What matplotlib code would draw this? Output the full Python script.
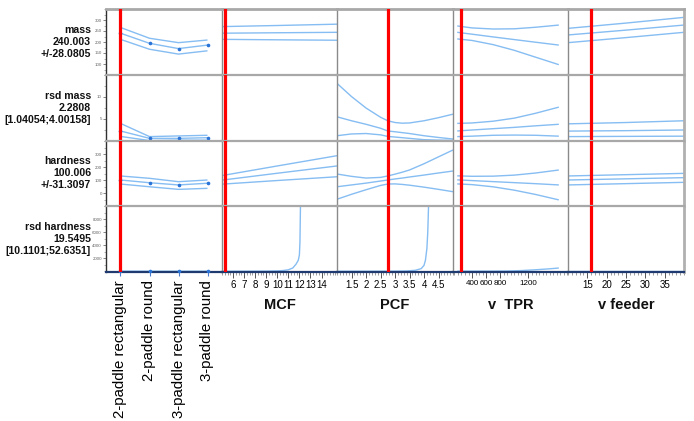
import matplotlib
matplotlib.use('Agg')
import matplotlib.pyplot as plt
from matplotlib.ticker import AutoMinorLocator, MultipleLocator, FixedLocator

plt.rcParams['font.family'] = ['Liberation Sans', 'DejaVu Sans']

# ---------------- data ----------------
categories = ['2-paddle rectangular', '2-paddle round', '3-paddle rectangular', '3-paddle round']
factor_names = ['', 'MCF', 'PCF', 'v  TPR', 'v feeder']
response_labels = ['mass\n240.003\n+/-28.0805',
                   'rsd mass\n2.2808\n[1.04054;4.00158]',
                   'hardness\n100.006\n+/-31.3097',
                   'rsd hardness\n19.5495\n[10.1101;52.6351]']
current_settings = [0, 5.27, 2.75, 250, 16]

# categorical factor (mixer type)
cat_x = [0, 1, 2, 3]
mass_cat_upper = [266, 217, 197, 209]
mass_cat_pred = [240.0, 194, 170, 186]
mass_cat_lower = [212, 167, 145, 160]
rsdm_cat_upper = [4.0, 1.0, 1.15, 1.3]
rsdm_cat_pred = [2.28, 0.6, 0.6, 0.75]
rsdm_cat_lower = [1.04, 0.1, 0.2, 0.2]
hard_cat_upper = [131, 113, 87, 100]
hard_cat_pred = [100, 79, 62, 75]
hard_cat_lower = [69, 48, 28, 36]
rsdh_cat_pred = [19.5, 15, 15, 15]

# MCF
mcf_x = [5, 10, 15.4]
mass_mcf_upper = [270, 275, 281]
mass_mcf_pred = [240, 242, 244]
mass_mcf_lower = [212, 210, 208]
hard_mcf_upper = [134, 208, 287]
hard_mcf_pred = [99, 152, 208]
hard_mcf_lower = [68, 96, 125]
rsdh_mcf_x = [5, 7, 9, 10, 10.5, 11, 11.4, 11.7, 11.9, 12.0, 12.05, 12.1]
rsdh_mcf_y = [5, 10, 25, 60, 110, 230, 500, 1100, 1700, 2500, 4500, 10500]

# PCF
pcf_x = [1, 1.5, 2, 2.5, 2.75, 3, 3.25, 3.5, 4, 4.5, 5]
rsdm_pcf_upper = [13.1, 10.1, 7.5, 5.4, 4.6, 4.2, 4.05, 4.1, 4.6, 5.3, 6.1]
rsdm_pcf_pred = [5.5, 4.6, 3.8, 2.9, 2.28, 2.1, 1.9, 1.7, 1.2, 0.8, 0.45]
rsdm_pcf_lower = [1.2, 1.6, 1.7, 1.4, 1.04, 0.9, 0.75, 0.6, 0.3, 0.2, 0.15]
hard_pcf_upper = [146, 128, 115, 120, 131, 145, 160, 177, 225, 278, 331]
hard_pcf_pred = [48, 62, 76, 92, 100, 108, 115, 123, 138, 154, 169]
hard_pcf_lower = [-48, -10, 25, 58, 69, 70, 66, 60, 45, 28, 10]
rsdh_pcf_x = [1, 2, 3, 3.4, 3.7, 3.9, 4.0, 4.05, 4.1, 4.13, 4.16]
rsdh_pcf_y = [5, 8, 20, 50, 150, 400, 900, 1700, 3500, 6000, 10500]

# v TPR
tpr_x = [190, 400, 700, 1000, 1300, 1630]
mass_tpr_upper = [273, 264, 259, 260, 267, 277]
mass_tpr_pred = [244, 235.5, 223, 211, 199, 186]
mass_tpr_lower = [214, 207, 188, 162, 131, 97]
rsdm_tpr_upper = [4.0, 4.1, 4.5, 5.2, 6.3, 7.7]
rsdm_tpr_pred = [2.28, 2.5, 2.8, 3.1, 3.45, 3.8]
rsdm_tpr_lower = [1.0, 1.1, 1.3, 1.35, 1.3, 1.1]
hard_tpr_upper = [132, 128.5, 129.5, 137.6, 153.7, 177]
hard_tpr_pred = [101, 95.5, 87.5, 79.6, 71.7, 62]
hard_tpr_lower = [70, 64.5, 47.5, 21.6, -11.3, -53]
rsdh_tpr_x = [190, 700, 900, 1100, 1300, 1500, 1630]
rsdh_tpr_y = [20, 25, 40, 110, 230, 380, 500]

# v feeder
feeder_x = [10, 25, 40]
mass_feed_upper = [262, 286, 312]
mass_feed_pred = [232, 254, 277]
mass_feed_lower = [197, 220, 244]
rsdm_feed_upper = [3.9, 4.2, 4.6]
rsdm_feed_pred = [2.25, 2.35, 2.5]
rsdm_feed_lower = [1.0, 1.05, 1.1]
hard_feed_upper = [131, 141, 151]
hard_feed_pred = [100, 109, 118]
hard_feed_lower = [62, 72, 82]
rsdh_feed_y = [20, 20, 20]

# axis ranges
row_ylims = [(50, 350), (0, 15), (-100, 400), (-110, 10000)]
col_xlims = [(-0.5, 3.5), (5, 15.4), (1, 5), (130, 1760), (10, 40)]
row_yticks = [[100, 150, 200, 250, 300], [5, 10], [0, 100, 200, 300], [2000, 4000, 6000, 8000]]

# ---------------- layout ----------------
W, H = 694, 421
fig = plt.figure(figsize=(W / 100, H / 100), dpi=100)
col_edges = [106, 222, 337, 453, 568, 684]
row_edges = [9, 75, 141, 206, 272]

LINE = '#86bdf2'
DOT = '#2a74d8'


def rect(c, r):
    x0 = col_edges[c] / W
    x1 = col_edges[c + 1] / W
    y0 = 1 - row_edges[r + 1] / H
    y1 = 1 - row_edges[r] / H
    return [x0, y0, x1 - x0, y1 - y0]


curves = {
    (0, 0): [(cat_x, mass_cat_upper), (cat_x, mass_cat_pred), (cat_x, mass_cat_lower)],
    (1, 0): [(cat_x, rsdm_cat_upper), (cat_x, rsdm_cat_pred), (cat_x, rsdm_cat_lower)],
    (2, 0): [(cat_x, hard_cat_upper), (cat_x, hard_cat_pred), (cat_x, hard_cat_lower)],
    (3, 0): [(cat_x, rsdh_cat_pred)],
    (0, 1): [(mcf_x, mass_mcf_upper), (mcf_x, mass_mcf_pred), (mcf_x, mass_mcf_lower)],
    (2, 1): [(mcf_x, hard_mcf_upper), (mcf_x, hard_mcf_pred), (mcf_x, hard_mcf_lower)],
    (3, 1): [(rsdh_mcf_x, rsdh_mcf_y)],
    (1, 2): [(pcf_x, rsdm_pcf_upper), (pcf_x, rsdm_pcf_pred), (pcf_x, rsdm_pcf_lower)],
    (2, 2): [(pcf_x, hard_pcf_upper), (pcf_x, hard_pcf_pred), (pcf_x, hard_pcf_lower)],
    (3, 2): [(rsdh_pcf_x, rsdh_pcf_y)],
    (0, 3): [(tpr_x, mass_tpr_upper), (tpr_x, mass_tpr_pred), (tpr_x, mass_tpr_lower)],
    (1, 3): [(tpr_x, rsdm_tpr_upper), (tpr_x, rsdm_tpr_pred), (tpr_x, rsdm_tpr_lower)],
    (2, 3): [(tpr_x, hard_tpr_upper), (tpr_x, hard_tpr_pred), (tpr_x, hard_tpr_lower)],
    (3, 3): [(rsdh_tpr_x, rsdh_tpr_y)],
    (0, 4): [(feeder_x, mass_feed_upper), (feeder_x, mass_feed_pred), (feeder_x, mass_feed_lower)],
    (1, 4): [(feeder_x, rsdm_feed_upper), (feeder_x, rsdm_feed_pred), (feeder_x, rsdm_feed_lower)],
    (2, 4): [(feeder_x, hard_feed_upper), (feeder_x, hard_feed_pred), (feeder_x, hard_feed_lower)],
    (3, 4): [(feeder_x, rsdh_feed_y)],
}
cat_dots = [mass_cat_pred, rsdm_cat_pred, hard_cat_pred, rsdh_cat_pred]

for r in range(4):
    for c in range(5):
        ax = fig.add_axes(rect(c, r))
        ax.set_xlim(*col_xlims[c])
        ax.set_ylim(*row_ylims[r])
        for xs, ys in curves.get((r, c), []):
            ax.plot(xs, ys, color=LINE, lw=1.0, solid_capstyle='butt', zorder=2)
        if c == 0:
            ax.plot(cat_x, cat_dots[r], ls='none', marker='o', ms=1.6,
                    color=DOT, zorder=3)
        ax.axvline(current_settings[c], color='#ff0000', lw=2.3, zorder=5)

        ax.spines['top'].set_color('#a8a8a8')
        ax.spines['top'].set_linewidth(2.0 if r == 0 else 1.6)
        ax.spines['left'].set_color('#303030' if c == 0 else '#8a8a8a')
        ax.spines['left'].set_linewidth(1.0)
        ax.spines['right'].set_visible(c == 4)
        ax.spines['right'].set_color('#b0b0b0')
        ax.spines['right'].set_linewidth(2.0)
        ax.spines['bottom'].set_visible(r == 3)
        ax.spines['bottom'].set_color('#1f3a6e')
        ax.spines['bottom'].set_linewidth(1.6)

        if c == 0:
            ax.yaxis.set_major_locator(FixedLocator(row_yticks[r]))
            ax.yaxis.set_minor_locator(AutoMinorLocator(2))
            ax.tick_params(axis='y', which='major', labelsize=3.2, length=2, width=0.5,
                           color='#555555', labelcolor='#666666', pad=1)
            ax.tick_params(axis='y', which='minor', length=1.2, width=0.4, color='#777777')
        else:
            ax.set_yticks([])
            ax.tick_params(axis='y', which='both', left=False, labelleft=False)

        if r == 3:
            if c == 0:
                ax.set_xticks(cat_x)
                ax.set_xticklabels(categories, rotation=90, fontsize=10.8)
                ax.tick_params(axis='x', length=3, width=0.8, color='#4a7fd0', pad=3)
            else:
                if c == 1:
                    ax.set_xticks([6, 7, 8, 9, 10, 11, 12, 13, 14])
                    ax.xaxis.set_minor_locator(MultipleLocator(0.25))
                    lab = 7
                elif c == 2:
                    ax.set_xticks([1.5, 2, 2.5, 3, 3.5, 4, 4.5])
                    ax.set_xticklabels(['1.5', '2', '2.5', '3', '3.5', '4', '4.5'])
                    ax.xaxis.set_minor_locator(MultipleLocator(0.1))
                    lab = 7
                elif c == 3:
                    ax.set_xticks([400, 600, 800, 1200])
                    ax.xaxis.set_minor_locator(MultipleLocator(50))
                    lab = 5.8
                else:
                    ax.set_xticks([15, 20, 25, 30, 35])
                    ax.xaxis.set_minor_locator(MultipleLocator(1))
                    lab = 7
                ax.tick_params(axis='x', which='major', labelsize=lab, length=4, width=0.7,
                               color='#555555', pad=2)
                ax.tick_params(axis='x', which='minor', length=2, width=0.5, color='#777777')
        else:
            ax.set_xticks([])
            ax.tick_params(axis='x', which='both', bottom=False, labelbottom=False)

for r in range(4):
    yc = (row_edges[r] + row_edges[r + 1]) / 2
    fig.text(91 / W, 1 - yc / H, response_labels[r], ha='right', va='center',
             fontsize=7.6, fontweight='bold', linespacing=1.25, color='#111111')

for c in range(1, 5):
    xc = (col_edges[c] + col_edges[c + 1]) / 2
    fig.text(xc / W, 1 - 305 / H, factor_names[c], ha='center', va='center',
             fontsize=10.5, fontweight='bold', color='#111111')

fig.savefig('out.png', dpi=100, facecolor='white')
